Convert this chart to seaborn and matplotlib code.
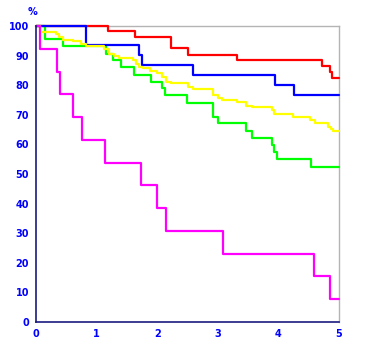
import matplotlib
matplotlib.use('Agg')
import matplotlib.pyplot as plt
import seaborn as sns
import pandas as pd

# step survival curves, times (years) where each drop happens and the level after it
red_t = [0, 1.18, 1.63, 2.23, 2.51, 3.32, 4.72, 4.85, 4.88]
red_s = [100, 98.3, 96.3, 92.6, 90.2, 88.4, 86.5, 84.5, 82.4]

blue_t = [0, 0.83, 1.70, 1.75, 2.59, 3.94, 4.26]
blue_s = [100, 93.6, 90.2, 86.8, 83.4, 80.1, 76.7]

yellow_t = [0, 0.07, 0.33, 0.38, 0.45, 0.61, 0.74, 0.83, 1.12, 1.20, 1.29, 1.37,
            1.60, 1.65, 1.70, 1.77, 1.88, 2.00, 2.08, 2.15, 2.23, 2.51, 2.59,
            2.92, 3.00, 3.07, 3.32, 3.47, 3.56, 3.89, 3.93, 4.24, 4.52, 4.60,
            4.82, 4.87, 4.90]
yellow_s = [100, 98.0, 97.3, 96.3, 95.3, 94.8, 93.9, 93.2, 92.2, 90.5, 89.9, 89.2,
            88.5, 87.2, 86.1, 85.8, 84.8, 84.1, 82.8, 81.1, 80.7, 79.4, 78.7,
            76.7, 75.7, 75.0, 74.3, 73.0, 72.6, 71.6, 70.3, 69.3, 68.2, 67.2,
            65.9, 65.2, 64.5]

green_t = [0, 0.15, 0.45, 1.16, 1.27, 1.40, 1.62, 1.90, 2.08, 2.13, 2.49, 2.92,
           3.00, 3.47, 3.56, 3.89, 3.93, 3.98, 4.54]
green_s = [100, 95.6, 93.2, 90.5, 88.5, 86.1, 83.4, 81.1, 78.9, 76.7, 74.0, 69.3,
           67.2, 64.5, 62.2, 59.8, 57.4, 55.1, 52.4]

magenta_t = [0, 0.07, 0.35, 0.40, 0.61, 0.76, 1.14, 1.73, 2.00, 2.15, 3.09, 4.59, 4.85]
magenta_s = [100, 92.3, 84.6, 76.9, 69.2, 61.5, 53.8, 46.2, 38.5, 30.8, 23.1, 15.4, 7.7]

t_end = 5.0
x_ticks = [0, 1, 2, 3, 4, 5]
y_ticks = list(range(0, 101, 10))

# drawing order: later ones sit on top where curves share the 100% line
series = [
    ('red', red_t, red_s, '#ff0000'),
    ('green', green_t, green_s, '#00ff00'),
    ('blue', blue_t, blue_s, '#0000ff'),
    ('yellow', yellow_t, yellow_s, '#ffff00'),
    ('magenta', magenta_t, magenta_s, '#ff00ff'),
]

sns.set_style('white')
fig = plt.figure(figsize=(3.65, 3.6), dpi=100)
ax = fig.add_axes([36 / 365, 1 - 322 / 360, 303 / 365, 296 / 360])

for i, (name, t, s, col) in enumerate(series):
    df = pd.DataFrame({'t': t + [t_end], 's': s + [s[-1]]})
    sns.lineplot(data=df, x='t', y='s', drawstyle='steps-post', color=col,
                 linewidth=1.6, estimator=None, sort=False, ax=ax,
                 clip_on=False, zorder=3 + i)

ax.set_xlim(0, 5)
ax.set_ylim(0, 100)
ax.set_xticks(x_ticks)
ax.set_yticks(y_ticks)
ax.set_xlabel('')
ax.set_ylabel('')

navy = '#1a1a80'
for side in ['left', 'bottom']:
    ax.spines[side].set_color(navy)
    ax.spines[side].set_linewidth(1.2)
    ax.spines[side].set_zorder(10)
for side in ['top', 'right']:
    ax.spines[side].set_color('#b4b4b4')
    ax.spines[side].set_linewidth(1.0)
    ax.spines[side].set_zorder(1)

ax.tick_params(axis='both', direction='in', length=8.5, width=1.0, color=navy,
               labelsize=7, labelcolor='#0000ff', pad=5)
for lab in ax.get_xticklabels() + ax.get_yticklabels():
    lab.set_fontweight('bold')

fig.text(32 / 365, 1 - 12 / 360, '%', color='#0000ff', fontsize=7,
         fontweight='bold', ha='center', va='center')

fig.savefig('out.png', dpi=100, facecolor='white')
